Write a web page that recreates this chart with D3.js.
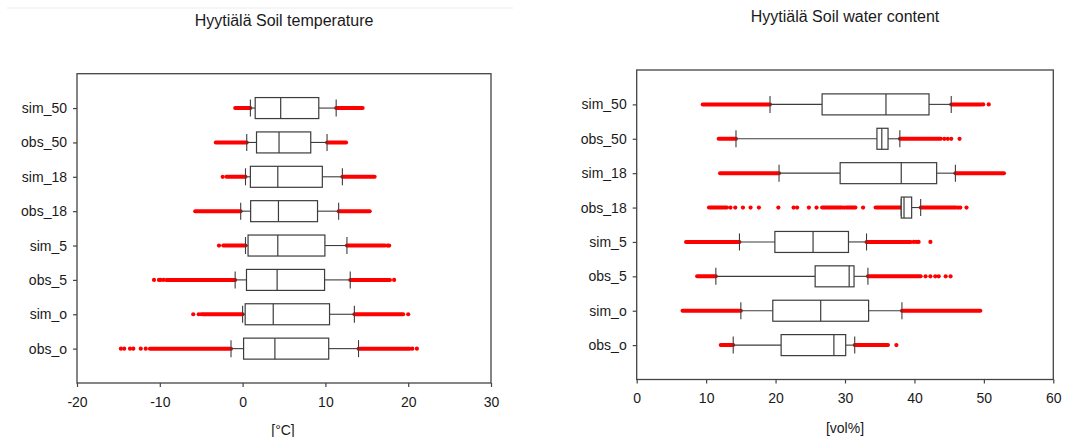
<!DOCTYPE html>
<html>
<head>
<meta charset="utf-8">
<script src="https://cdn.jsdelivr.net/npm/d3@7"></script>
<style>
  body { margin: 0; background: #fff; }
  svg { font-family: "Liberation Sans", Arial, sans-serif; }
</style>
</head>
<body>
<svg id="chart" width="1076" height="437"></svg>
<script>
// rows from bottom to top
var categories = ["obs_o", "sim_o", "obs_5", "sim_5", "obs_18", "sim_18", "obs_50", "sim_50"];

// [lower whisker, q1, median, q3, upper whisker]
var tempStats = [
    [-1.4, 0.12, 3.9, 10.4, 14.0],
    [0.0, 0.31, 3.7, 10.5, 13.5],
    [-0.9, 0.47, 4.17, 9.9, 13.0],
    [0.35, 0.66, 4.25, 9.94, 12.6],
    [-0.23, 0.97, 4.33, 9.05, 11.6],
    [0.35, 0.94, 4.25, 9.63, 12.05],
    [0.5, 1.68, 4.4, 8.23, 10.2],
    [0.94, 1.52, 4.6, 9.2, 11.3]
];
// dense runs of outliers, [from, to]
var tempRuns = [
    [[-11.2, -1.4], [14.0, 20.2]],
    [[-4.8, 0.0], [13.5, 19.4]],
    [[-9.2, -0.9], [13.0, 17.8]],
    [[-2.34, 0.35], [12.6, 17.2]],
    [[-5.73, -0.23], [11.6, 15.36]],
    [[-1.95, 0.35], [12.05, 15.95]],
    [[-3.24, 0.5], [10.2, 12.5]],
    [[-0.9, 0.94], [11.3, 14.5]]
];
// single outliers
var tempDots = [
    [-14.7, -14.3, -13.6, -13.2, -12.3, -11.7, 20.5, 21.05],
    [-5.96, -5.3, -5.0, 20.0],
    [-10.7, -10.1, -9.9, -9.55, 18.3],
    [-2.85, 17.5, 17.7],
    [],
    [-2.4],
    [],
    []
];

var waterStats = [
    [13.9, 20.8, 28.4, 30.1, 31.4],
    [15.0, 19.6, 26.5, 33.4, 38.2],
    [11.4, 25.7, 30.6, 31.3, 33.3],
    [14.8, 19.9, 25.4, 30.5, 33.1],
    [38.1, 38.1, 38.5, 39.6, 40.9],
    [20.5, 29.3, 38.1, 43.2, 45.9],
    [14.3, 34.6, 35.3, 36.2, 37.9],
    [19.2, 26.7, 35.9, 42.1, 45.3]
];
var waterRuns = [
    [[12.1, 13.9], [31.4, 36.2]],
    [[6.6, 15.0], [38.2, 49.5]],
    [[8.7, 11.4], [33.3, 40.9]],
    [[7.1, 14.8], [33.1, 39.5]],
    [[10.4, 13.0], [26.7, 29.6], [30.2, 31.5], [34.4, 38.1], [40.9, 46.0]],
    [[12.0, 20.5], [45.9, 52.9]],
    [[11.8, 14.3], [37.9, 43.8]],
    [[9.5, 19.2], [45.3, 49.6]]
];
var waterDots = [
    [37.4],
    [],
    [41.6, 42.3, 43.0, 43.5, 44.5, 45.2],
    [39.9, 40.3, 40.6, 42.3],
    [13.5, 14.2, 15.3, 16.4, 17.6, 20.4, 22.6, 23.1, 24.8, 25.9, 29.9, 32.6, 46.3, 46.6, 47.5],
    [],
    [44.3, 44.8, 45.3, 46.5],
    [49.9, 50.7]
];

var tempTicks = [-20, -10, 0, 10, 20, 30];
var waterTicks = [0, 10, 20, 30, 40, 50, 60];

var svg = d3.select("#chart");

// faint page rule above left panel
svg.append("line")
    .attr("x1", 7).attr("x2", 513)
    .attr("y1", 8).attr("y2", 8)
    .attr("stroke", "#ececec").attr("stroke-width", 1);

function drawPanel(p){
    var g = svg.append("g");
    var x = d3.scaleLinear().domain(p.domain).range([p.left, p.right]);
    var y = d3.scaleLinear().domain([0, categories.length + 1]).range([p.bottom, p.top]);
    var boxH = 21, capH = 17;

    g.append("text")
        .attr("x", p.titleX).attr("y", p.titleY)
        .attr("text-anchor", "middle")
        .attr("font-size", 16).attr("fill", "#1a1a1a")
        .text(p.title);

    // outliers first so whiskers sit on top
    var rows = g.selectAll("g.row").data(categories).enter()
        .append("g").attr("class", "row");

    rows.each(function(c, i){
        var r = d3.select(this), cy = y(i + 1);
        r.selectAll("line.run").data(p.runs[i]).enter()
            .append("line").attr("class", "run")
            .attr("x1", function(d){return x(d[0]);})
            .attr("x2", function(d){return x(d[1]);})
            .attr("y1", cy).attr("y2", cy)
            .attr("stroke", "#ff0000").attr("stroke-width", 4)
            .attr("stroke-linecap", "round");
        r.selectAll("circle").data(p.dots[i]).enter()
            .append("circle")
            .attr("cx", function(d){return x(d);})
            .attr("cy", cy).attr("r", 2.1)
            .attr("fill", "#ff0000");

        var s = p.stats[i];
        var st = "#3c3c3c";
        r.append("line")
            .attr("x1", x(s[0])).attr("x2", x(s[1]))
            .attr("y1", cy).attr("y2", cy)
            .attr("stroke", st).attr("stroke-width", 1.1);
        r.append("line")
            .attr("x1", x(s[3])).attr("x2", x(s[4]))
            .attr("y1", cy).attr("y2", cy)
            .attr("stroke", st).attr("stroke-width", 1.1);
        [s[0], s[4]].forEach(function(v){
            r.append("line")
                .attr("x1", x(v)).attr("x2", x(v))
                .attr("y1", cy - capH/2).attr("y2", cy + capH/2)
                .attr("stroke", st).attr("stroke-width", 1.1);
        });
        r.append("rect")
            .attr("x", x(s[1])).attr("y", cy - boxH/2)
            .attr("width", x(s[3]) - x(s[1])).attr("height", boxH)
            .attr("fill", "#fff").attr("stroke", st).attr("stroke-width", 1.2);
        r.append("line")
            .attr("x1", x(s[2])).attr("x2", x(s[2]))
            .attr("y1", cy - boxH/2).attr("y2", cy + boxH/2)
            .attr("stroke", st).attr("stroke-width", 1.2);
    });

    // frame
    g.append("rect")
        .attr("x", p.left).attr("y", p.top)
        .attr("width", p.right - p.left).attr("height", p.bottom - p.top)
        .attr("fill", "none").attr("stroke", "#444").attr("stroke-width", 1.3);

    var ya = g.append("g")
        .attr("transform", "translate(" + p.left + ",0)")
        .call(d3.axisLeft(y)
            .tickValues(d3.range(1, categories.length + 1))
            .tickFormat(function(d){return categories[d - 1];})
            .tickSize(4).tickPadding(6));
    var xa = g.append("g")
        .attr("transform", "translate(0," + p.bottom + ")")
        .call(d3.axisBottom(x).tickValues(p.ticks)
            .tickFormat(function(d){return String(d);})
            .tickSize(4).tickPadding(10));
    [ya, xa].forEach(function(a){
        a.select(".domain").remove();
        a.selectAll("line").attr("stroke", "#444").attr("stroke-width", 1.2);
        a.selectAll("text").attr("font-size", 14).attr("fill", "#1a1a1a")
            .attr("font-family", "Liberation Sans, Arial, sans-serif");
    });

    g.append("text")
        .attr("x", p.labelX).attr("y", p.labelY)
        .attr("text-anchor", "middle")
        .attr("font-size", 14).attr("fill", "#1a1a1a")
        .text(p.label);
}

drawPanel({
    title: "Hyytiälä Soil temperature", titleX: 284, titleY: 26,
    label: "[°C]", labelX: 283, labelY: 435,
    domain: [-20, 30], ticks: tempTicks,
    left: 77, right: 491, top: 73.7, bottom: 383,
    stats: tempStats, runs: tempRuns, dots: tempDots
});

drawPanel({
    title: "Hyytiälä Soil water content", titleX: 845, titleY: 22,
    label: "[vol%]", labelX: 845, labelY: 433,
    domain: [0, 60], ticks: waterTicks,
    left: 636.7, right: 1053.3, top: 70, bottom: 379.5,
    stats: waterStats, runs: waterRuns, dots: waterDots
});
</script>
</body>
</html>
